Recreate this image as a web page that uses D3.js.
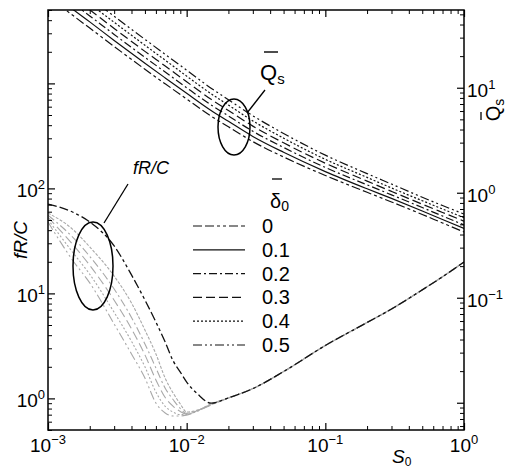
<!DOCTYPE html>
<html><head><meta charset="utf-8">
<script src="https://cdn.jsdelivr.net/npm/d3@7"></script>
<style>
html,body{margin:0;padding:0;background:#fff;}
svg text{font-family:"Liberation Sans",Arial,Helvetica,sans-serif;fill:#000;}
</style></head>
<body><svg id="c" width="509" height="468"></svg>
<script>
// ---- data ----
const deltaLabels = ["0", "0.1", "0.2", "0.3", "0.4", "0.5"];
const dashStyles = ["9,3,9,3,3,3,3,3", "", "8,3,2,3", "9,4", "2,2", "9,3,2,3,2,3"];

const S_Q = [0.001, 0.0015, 0.002, 0.003, 0.005, 0.007, 0.01, 0.015, 0.02, 0.03, 0.05, 0.1, 0.2, 0.3, 0.5, 0.7, 1.0];
const qs_d0 = [74.7, 49.2, 37.0, 24.7, 15.0, 10.9, 7.80, 5.37, 4.25, 3.07, 2.19, 1.46, 1.01, 0.817, 0.621, 0.515, 0.423];
const qs_d1 = [85.1, 56.2, 42.4, 28.2, 17.1, 12.4, 8.85, 6.07, 4.79, 3.44, 2.43, 1.59, 1.09, 0.883, 0.670, 0.556, 0.457];
const qs_d2 = [97.0, 64.3, 48.3, 32.2, 19.5, 14.1, 10.0, 6.86, 5.39, 3.85, 2.70, 1.74, 1.19, 0.955, 0.723, 0.600, 0.494];
const qs_d3 = [110.9, 73.6, 55.2, 36.7, 22.2, 16.1, 11.4, 7.76, 6.07, 4.31, 2.99, 1.91, 1.29, 1.03, 0.778, 0.649, 0.536];
const qs_d4 = [126.5, 84.1, 63.0, 42.0, 25.4, 18.3, 12.9, 8.77, 6.84, 4.83, 3.31, 2.08, 1.40, 1.11, 0.840, 0.700, 0.579];
const qs_d5 = [144, 96.1, 71.9, 48.0, 28.9, 20.8, 14.7, 9.91, 7.69, 5.41, 3.67, 2.28, 1.52, 1.21, 0.906, 0.755, 0.627];

const S_F = [0.001, 0.0015, 0.002, 0.003, 0.004, 0.005, 0.006, 0.007, 0.008, 0.009, 0.01, 0.012, 0.015, 0.02, 0.03, 0.05, 0.1, 0.2, 0.3, 0.5, 0.7, 1.0];
const frc_d0 = [71, 59.6, 47.9, 28.3, 15.0, 8.65, 5.34, 3.44, 2.27, 1.78, 1.43, 1.10, 0.90, 1.01, 1.24, 1.80, 3.19, 5.28, 7.10, 10.8, 14.4, 19.9];
const frc_d1 = [58.3, 41.0, 27.7, 14.6, 8.11, 4.48, 2.65, 1.56, 1.12, 0.885, 0.741, 0.774, 0.885, 1.01, 1.24, 1.80, 3.19, 5.28, 7.10, 10.8, 14.4, 19.9];
const frc_d2 = [55.5, 34.5, 22.5, 11.0, 5.9, 3.3, 1.95, 1.25, 0.97, 0.80, 0.72, 0.77, 0.88, 1.01, 1.24, 1.80, 3.19, 5.28, 7.10, 10.8, 14.4, 19.9];
const frc_d3 = [53.0, 29.5, 18.5, 8.6, 4.6, 2.6, 1.5, 1.02, 0.84, 0.75, 0.71, 0.765, 0.875, 1.01, 1.24, 1.80, 3.19, 5.28, 7.10, 10.8, 14.4, 19.9];
const frc_d4 = [50.5, 24.8, 15.2, 6.6, 3.5, 2.0, 1.15, 0.84, 0.74, 0.70, 0.70, 0.76, 0.87, 1.01, 1.24, 1.80, 3.19, 5.28, 7.10, 10.8, 14.4, 19.9];
const frc_d5 = [47.9, 20.8, 12.6, 5.11, 2.65, 1.56, 0.904, 0.726, 0.679, 0.679, 0.695, 0.759, 0.865, 1.01, 1.24, 1.80, 3.19, 5.28, 7.10, 10.8, 14.4, 19.9];

const xTickVals = [1e-3, 1e-2, 1e-1, 1];
const xTickExp = ["\u22123", "\u22122", "\u22121", "0"];
const yLTickVals = [1, 10, 100];
const yLTickExp = ["0", "1", "2"];
const yRTickVals = [0.1, 1, 10];
const yRTickExp = ["\u22121", "0", "1"];

// ---- layout ----
const L = 48, R = 464, T = 10, B = 430;
const svg = d3.select("#c");
const x = d3.scaleLog().domain([1e-3, 1]).range([L, R]);
const yL = d3.scaleLog().domain([0.5, 5000]).range([B, T]);
const yR = d3.scaleLog().domain([0.0055, 55]).range([B, T]);

svg.append("defs").append("clipPath").attr("id", "clip")
  .append("rect").attr("x", L).attr("y", T).attr("width", R - L).attr("height", B - T);

const plot = svg.append("g").attr("clip-path", "url(#clip)");

const qsSeries = [qs_d0, qs_d1, qs_d2, qs_d3, qs_d4, qs_d5];
const frSeries = [frc_d0, frc_d1, frc_d2, frc_d3, frc_d4, frc_d5];

const lineQ = d3.line().x(d => x(d[0])).y(d => yR(d[1])).curve(d3.curveMonotoneX);
const lineF = d3.line().x(d => x(d[0])).y(d => yL(d[1])).curve(d3.curveMonotoneX);

// grey fR/C curves first (0.5 .. 0.1), then black delta=0
for (let i = 5; i >= 1; i--) {
  plot.append("path").attr("d", lineF(S_F.map((s, k) => [s, frSeries[i][k]])))
    .attr("fill", "none").attr("stroke", "#a8a8a8").attr("stroke-width", 1.1)
    .attr("stroke-dasharray", dashStyles[i] || "3,1.5");
}
plot.append("path").attr("d", lineF(S_F.map((s, k) => [s, frSeries[0][k]])))
  .attr("fill", "none").attr("stroke", "#111").attr("stroke-width", 1.3)
  .attr("stroke-dasharray", dashStyles[0]);

qsSeries.forEach((arr, i) => {
  plot.append("path").attr("d", lineQ(S_Q.map((s, k) => [s, arr[k]])))
    .attr("fill", "none").attr("stroke", "#111").attr("stroke-width", 1.2)
    .attr("stroke-dasharray", dashStyles[i] || null);
});

// ---- axes (inward ticks) ----
function minorTicks(scale) {
  const [a, b] = scale.domain();
  const out = [];
  for (let e = Math.floor(Math.log10(a)); e <= Math.ceil(Math.log10(b)); e++) {
    for (let m = 1; m <= 9; m++) {
      const v = m * Math.pow(10, e);
      if (v >= a * 0.999 && v <= b * 1.001) out.push(v);
    }
  }
  return out;
}
function majorTicks(scale) { return minorTicks(scale).filter(v => Math.abs(Math.log10(v) - Math.round(Math.log10(v))) < 1e-9); }

function drawAxis(axisFn, scale, tx, ty) {
  const minors = minorTicks(scale).filter(v => !majorTicks(scale).includes(v));
  svg.append("g").attr("transform", `translate(${tx},${ty})`)
    .call(axisFn(scale).tickValues(minors).tickSize(-4).tickFormat(""))
    .call(g => g.select(".domain").remove())
    .selectAll("line").attr("stroke", "#000").attr("stroke-width", 1);
  svg.append("g").attr("transform", `translate(${tx},${ty})`)
    .call(axisFn(scale).tickValues(majorTicks(scale)).tickSize(-7).tickFormat(""))
    .call(g => g.select(".domain").remove())
    .selectAll("line").attr("stroke", "#000").attr("stroke-width", 1.2);
}
drawAxis(d3.axisBottom, x, 0, B);
drawAxis(d3.axisTop, x, 0, T);
drawAxis(d3.axisLeft, yL, L, 0);
drawAxis(d3.axisRight, yR, R, 0);

svg.append("rect").attr("x", L).attr("y", T).attr("width", R - L).attr("height", B - T)
  .attr("fill", "none").attr("stroke", "#000").attr("stroke-width", 1.5);

// ---- tick labels ----
function powLabel(px, py, exp, anchor) {
  const t = svg.append("text").attr("x", px).attr("y", py).attr("text-anchor", anchor).style("font-size", "19px");
  t.append("tspan").text("10");
  t.append("tspan").attr("dy", -8).style("font-size", "13px").text(exp);
  return t;
}
xTickVals.forEach((v, i) => powLabel(x(v), 452, xTickExp[i], "middle"));
yLTickVals.forEach((v, i) => powLabel(45, yL(v) + 9, yLTickExp[i], "end"));
yRTickVals.forEach((v, i) => powLabel(467, yR(v) + 9, yRTickExp[i], "start"));

// ---- axis titles ----
svg.append("text").attr("transform", "translate(27,240) rotate(-90)").attr("text-anchor", "middle")
  .style("font-size", "19px").style("font-style", "italic").text("fR/C");
const qr = svg.append("g").attr("transform", "translate(500,110) rotate(-90)");
const qrt = qr.append("text").attr("text-anchor", "middle").style("font-size", "20px");
qrt.append("tspan").text("Q");
qrt.append("tspan").attr("dy", 4).style("font-size", "14px").text("s");
qr.append("line").attr("x1", -10).attr("x2", -2).attr("y1", -19).attr("y2", -19).attr("stroke", "#000").attr("stroke-width", 1.3);

const sx = svg.append("text").attr("x", 392).attr("y", 463).style("font-size", "19px").style("font-style", "italic");
sx.append("tspan").text("S");
sx.append("tspan").attr("dy", 3).style("font-size", "12px").style("font-style", "normal").text("0");

// ---- annotations ----
svg.append("ellipse").attr("cx", 93).attr("cy", 266).attr("rx", 20).attr("ry", 44)
  .attr("fill", "none").attr("stroke", "#000").attr("stroke-width", 1.5);
svg.append("line").attr("x1", 128).attr("y1", 184).attr("x2", 104).attr("y2", 223).attr("stroke", "#000").attr("stroke-width", 1.3);
svg.append("text").attr("x", 133).attr("y", 174).style("font-size", "18px").style("font-style", "italic").text("fR/C");

svg.append("ellipse").attr("cx", 234).attr("cy", 127).attr("rx", 16).attr("ry", 28)
  .attr("fill", "none").attr("stroke", "#000").attr("stroke-width", 1.5);
svg.append("line").attr("x1", 247).attr("y1", 113).attr("x2", 265).attr("y2", 90).attr("stroke", "#000").attr("stroke-width", 1.3);
const ql = svg.append("text").attr("x", 260).attr("y", 80).style("font-size", "22px");
ql.append("tspan").text("Q");
ql.append("tspan").attr("dy", 4).style("font-size", "15px").text("s");
svg.append("line").attr("x1", 264).attr("x2", 278).attr("y1", 52).attr("y2", 52).attr("stroke", "#000").attr("stroke-width", 1.4);

// ---- legend ----
const dl = svg.append("text").attr("x", 270).attr("y", 208).style("font-size", "20px");
dl.append("tspan").text("\u03b4");
dl.append("tspan").attr("dy", 3).style("font-size", "14px").text("0");
svg.append("line").attr("x1", 272).attr("x2", 282).attr("y1", 179).attr("y2", 179).attr("stroke", "#000").attr("stroke-width", 1.3);

const rowY = d3.scalePoint().domain(deltaLabels).range([226, 345]);
deltaLabels.forEach((lab, i) => {
  const yy = rowY(lab);
  svg.append("line").attr("x1", 193).attr("x2", 245).attr("y1", yy).attr("y2", yy)
    .attr("stroke", "#111").attr("stroke-width", 1.2).attr("stroke-dasharray", dashStyles[i] || null);
  svg.append("text").attr("x", 262).attr("y", yy + 7).style("font-size", "20px").text(lab);
});
</script></body></html>
